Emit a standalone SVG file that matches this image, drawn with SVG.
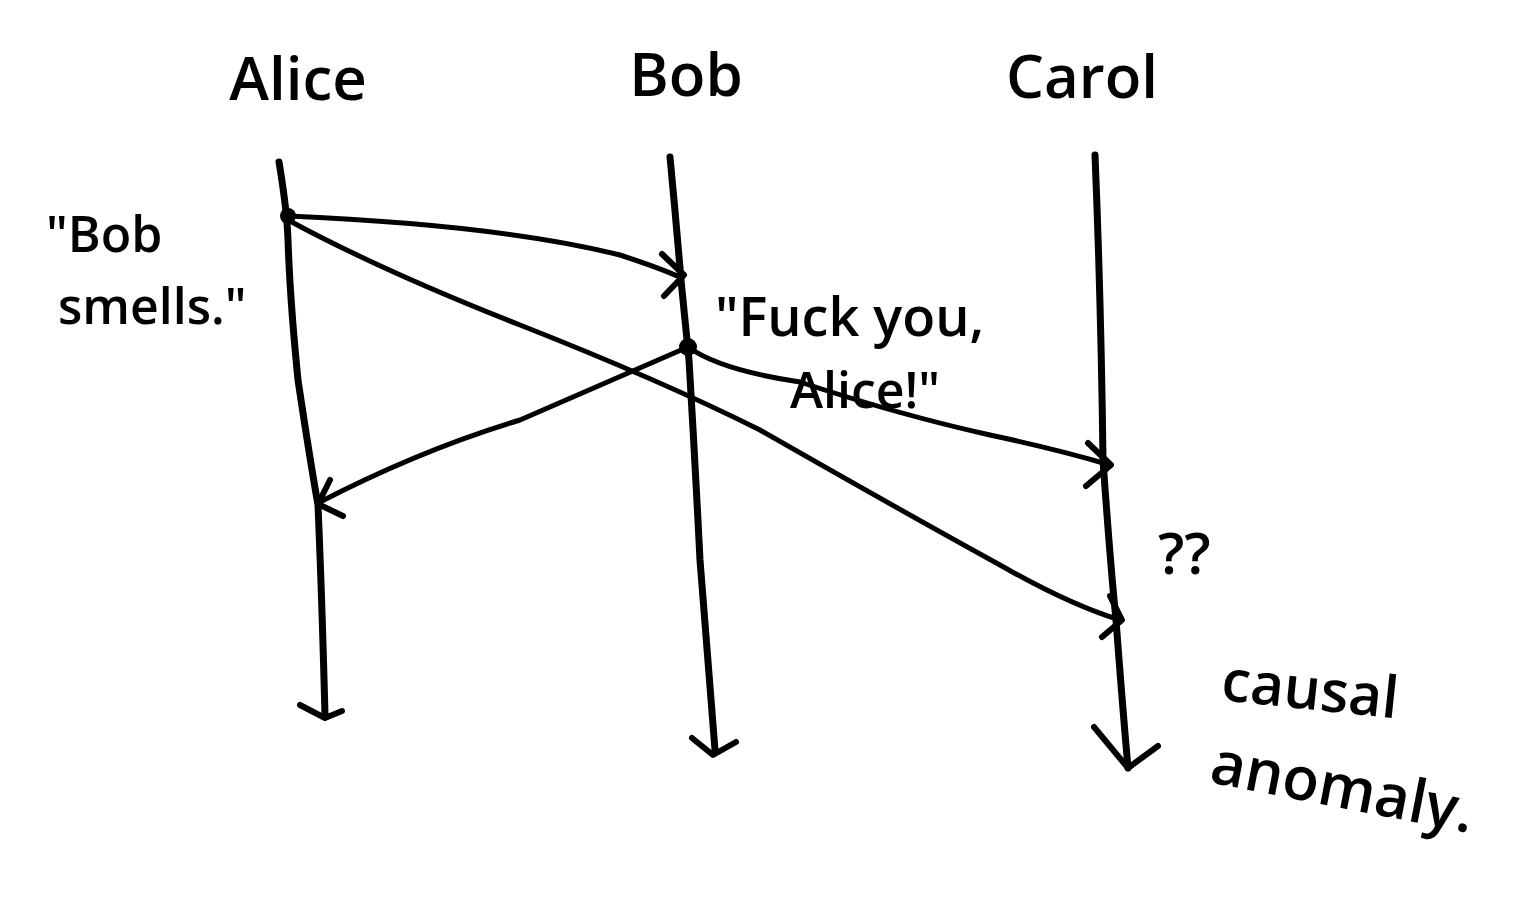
<svg xmlns="http://www.w3.org/2000/svg" width="1524" height="908" viewBox="0 0 1524 908">
<style>
.bg{fill:#fff}
.life{fill:none;stroke:#000;stroke-width:7;stroke-linecap:round;stroke-linejoin:round}
.msg{fill:none;stroke:#000;stroke-width:5;stroke-linecap:round;stroke-linejoin:round}
.head{fill:none;stroke:#000;stroke-width:6;stroke-linecap:round;stroke-linejoin:round}
.lbl{font-family:"Open Sans","Liberation Sans",sans-serif;fill:#000;font-weight:600}
.name{font-size:60px}
</style>
<rect class="bg" width="1524" height="908"/>
<g id="alice">
<text class="lbl name" x="298" y="100" text-anchor="middle">Alice</text>
<path class="life" d="M279,162 Q287,210 288,240 Q290,300 298,380 Q310,460 318,505 Q322,600 325,715"/>
<path class="head" d="M300,705 L325,718 L342,711"/>
</g>
<g id="bob">
<text class="lbl name" x="686" y="96" text-anchor="middle">Bob</text>
<path class="life" d="M670,157 Q676,220 681,280 Q686,330 689,360 Q695,460 700,560 Q708,660 715,750"/>
<path class="head" d="M692,738 L713,755 L736,742"/>
</g>
<g id="carol">
<text class="lbl name" x="1082" y="98" text-anchor="middle">Carol</text>
<path class="life" d="M1095,155 Q1101,300 1103,460 Q1110,560 1116,620 Q1122,700 1128,768"/>
<path class="head" d="M1094,727 L1128,768 L1158,746"/>
</g>
<g id="labels">
<text class="lbl" font-size="50" x="46" y="252">"Bob</text>
<text class="lbl" font-size="50" x="58" y="324">smells."</text>
<text class="lbl" font-size="54" x="715" y="336">"Fuck you,</text>
<text class="lbl" font-size="50" x="790" y="408">Alice!"</text>
<text class="lbl" font-size="58" x="1158" y="574">??</text>
<text class="lbl" font-size="58" x="1220" y="700" transform="rotate(6 1220 700)">causal</text>
<text class="lbl" font-size="60" x="1208" y="782" transform="rotate(11 1208 782)">anomaly.</text>
</g>
<g id="connectors">
<circle cx="288" cy="216" r="8" fill="#000"/>
<circle cx="688" cy="347" r="9" fill="#000"/>
<path class="msg" d="M288,216 Q500,225 620,255 Q660,268 682,278"/>
<path class="head" d="M662,254 L684,275 L664,296"/>
<path class="msg" d="M288,220 Q380,270 520,325 Q660,380 760,430 Q900,510 1000,565 Q1070,605 1120,620"/>
<path class="head" d="M1110,596 L1122,620 L1102,637"/>
<path class="msg" d="M688,347 Q600,385 520,420 Q420,450 318,503"/>
<path class="head" d="M330,480 L318,504 L343,516"/>
<path class="msg" d="M688,347 Q720,370 800,382 Q900,415 990,435 Q1060,450 1110,465"/>
<path class="head" d="M1088,443 L1111,465 L1086,486"/>
</g>
</svg>
